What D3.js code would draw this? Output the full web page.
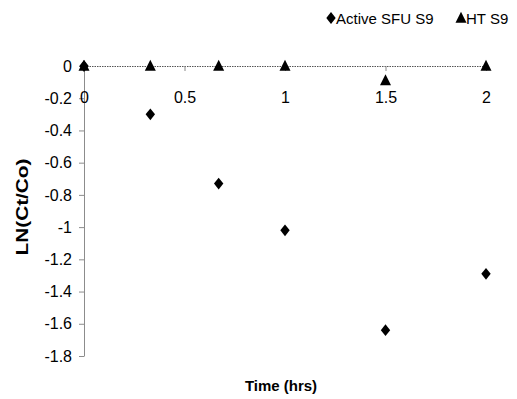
<!DOCTYPE html>
<html>
<head>
<meta charset="utf-8">
<script src="https://cdn.jsdelivr.net/npm/d3@7"></script>
<style>
  body { margin: 0; background: #fff; }
  svg { font-family: "Liberation Sans", Arial, sans-serif; }
</style>
</head>
<body>
<svg id="mainsvg" width="517" height="399"></svg>
<script>
// data
const activeTime = [0, 0.33, 0.67, 1, 1.5, 2];
const activeLn = [0, -0.30, -0.73, -1.02, -1.64, -1.29];
const htTime = [0, 0.33, 0.67, 1, 1.5, 2];
const htLn = [0, 0, 0, 0, -0.09, 0];
const xTicks = [0, 0.5, 1, 1.5, 2];
const yTicks = [0, -0.2, -0.4, -0.6, -0.8, -1, -1.2, -1.4, -1.6, -1.8];
const seriesNames = ['Active SFU S9', 'HT S9'];

const svg = d3.select('#mainsvg');
const margin = { top: 66, left: 84, right: 31, bottom: 43 };
const width = +svg.attr('width');
const height = +svg.attr('height');

const x = d3.scaleLinear().domain([0, 2]).range([margin.left, width - margin.right]);
const y = d3.scaleLinear().domain([-1.8, 0]).range([height - margin.bottom, margin.top]);

const fmt = d => String(+d.toFixed(1));

// custom marker shapes (diamond is a bit squatter than d3's)
const diamond = {
  draw(ctx, size) {
    const h = Math.sqrt(size) * 0.62, w = h * 0.8;
    ctx.moveTo(0, -h); ctx.lineTo(w, 0); ctx.lineTo(0, h); ctx.lineTo(-w, 0); ctx.closePath();
  }
};
const tri = {
  draw(ctx, size) {
    const s = Math.sqrt(size) * 0.7;
    ctx.moveTo(0, -s * 0.85); ctx.lineTo(s * 0.75, s * 0.65); ctx.lineTo(-s * 0.75, s * 0.65); ctx.closePath();
  }
};

// y axis
const yAxis = svg.append('g')
  .attr('transform', `translate(${x(0)},0)`)
  .call(d3.axisLeft(y).tickValues(yTicks).tickFormat(fmt).tickSize(5).tickPadding(7).tickSizeOuter(0));
yAxis.select('.domain').attr('stroke', '#8c8c8c');
yAxis.selectAll('.tick line').attr('stroke', '#8c8c8c');
yAxis.selectAll('text').attr('font-size', 16).attr('fill', '#000');

// x axis at y = 0
const xAxis = svg.append('g')
  .attr('transform', `translate(0,${y(0)})`)
  .call(d3.axisBottom(x).tickValues(xTicks).tickFormat(fmt).tickSize(5).tickPadding(21).tickSizeOuter(0));
xAxis.select('.domain').attr('stroke', '#555').attr('stroke-dasharray', '1.5,1');
xAxis.selectAll('.tick line').attr('stroke', '#888');
xAxis.selectAll('text').attr('font-size', 16).attr('fill', '#000');

// points
const active = activeTime.map((t, i) => ({ t, v: activeLn[i] }));
const ht = htTime.map((t, i) => ({ t, v: htLn[i] }));

svg.append('g').selectAll('path')
  .data(active)
  .join('path')
  .attr('transform', d => `translate(${x(d.t)},${y(d.v)})`)
  .attr('d', d3.symbol().type(diamond).size(90))
  .attr('fill', '#000');

svg.append('g').selectAll('path')
  .data(ht)
  .join('path')
  .attr('transform', d => `translate(${x(d.t)},${y(d.v)})`)
  .attr('d', d3.symbol().type(tri).size(110))
  .attr('fill', '#000');

// axis titles
svg.append('text')
  .attr('x', (x(0) + x(2)) / 2 - 4)
  .attr('y', 391)
  .attr('text-anchor', 'middle')
  .attr('font-size', 15)
  .attr('font-weight', 'bold')
  .text('Time (hrs)');

// y title is stretched along its length in the original
svg.append('text')
  .attr('transform', `translate(28,207) rotate(-90) scale(1.3,1)`)
  .attr('text-anchor', 'middle')
  .attr('font-size', 16)
  .attr('font-weight', 'bold')
  .text('LN(Ct/Co)');

// legend
const legend = svg.append('g').attr('transform', 'translate(0,18)');
const legendX = [331, 461];
const legendShapes = [diamond, tri];
const legendSizes = [90, 110];
seriesNames.forEach((name, i) => {
  legend.append('path')
    .attr('transform', `translate(${legendX[i]},0)`)
    .attr('d', d3.symbol().type(legendShapes[i]).size(legendSizes[i]))
    .attr('fill', '#000');
  legend.append('text')
    .attr('x', legendX[i] + 5)
    .attr('y', 5.5)
    .attr('font-size', 15)
    .text(name);
});
</script>
</body>
</html>
